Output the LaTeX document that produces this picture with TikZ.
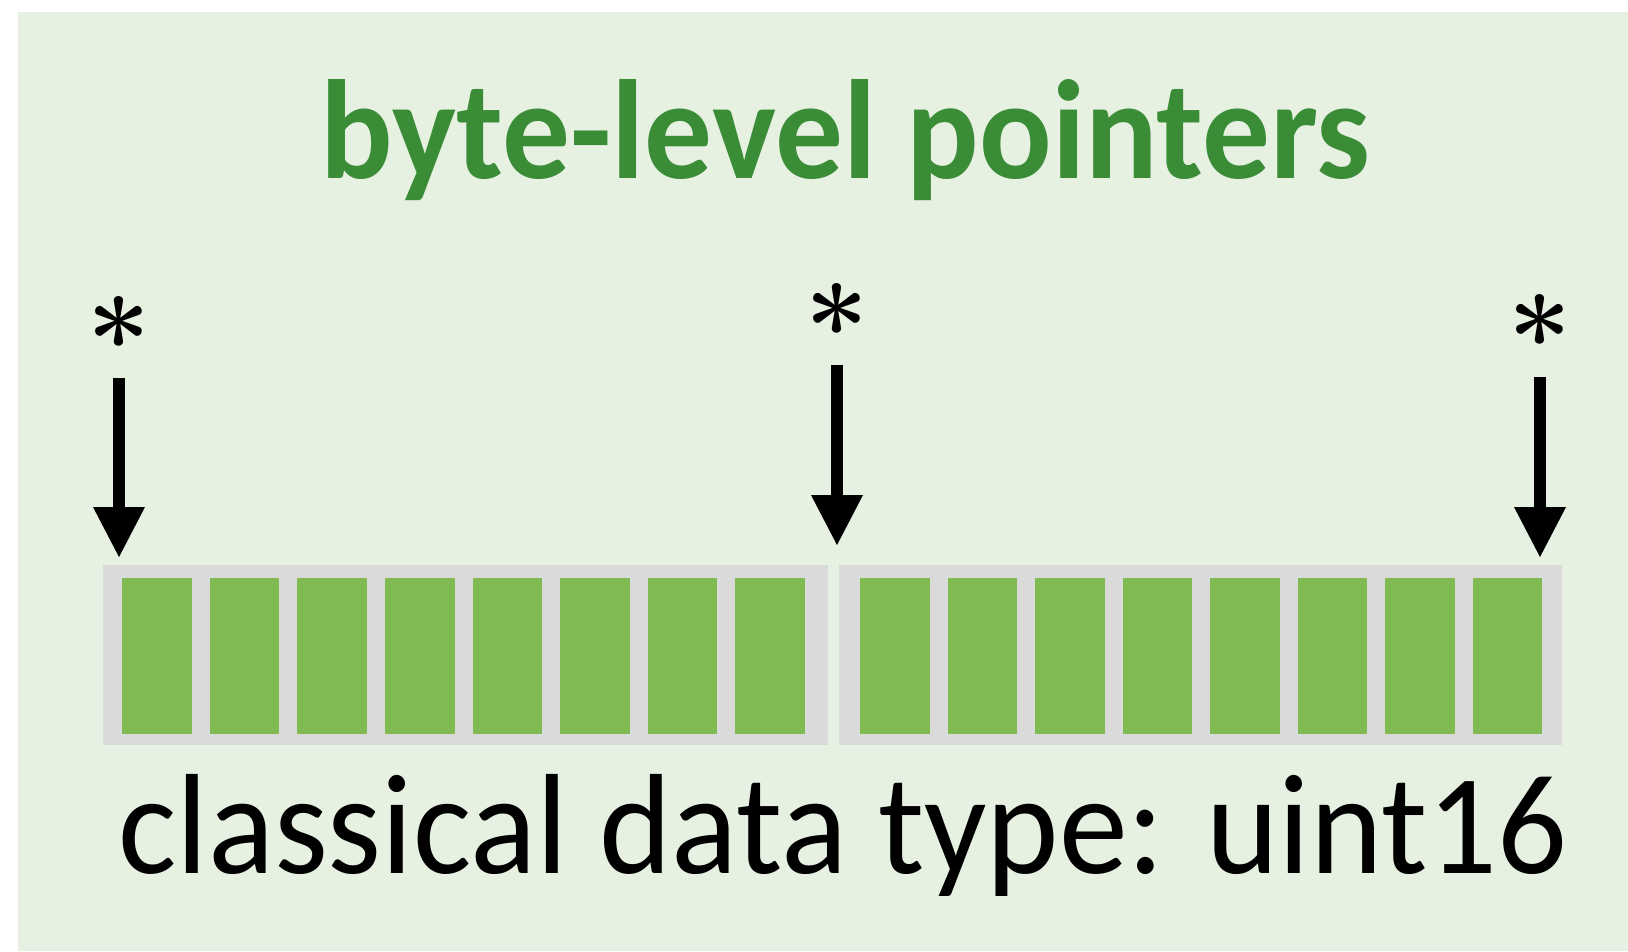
\documentclass[tikz,border=0pt]{standalone}
\usepackage{fontspec}
\setmainfont{Carlito}
\newfontfamily\starfont{Latin Modern Roman}
\usetikzlibrary{arrows.meta}

\definecolor{panelbg}{HTML}{E6F1E1}
\definecolor{cellgreen}{HTML}{80BB52}
\definecolor{framegray}{HTML}{DADADA}
\definecolor{titlegreen}{HTML}{3A8C37}

\begin{document}
\begin{tikzpicture}[x=1pt,y=-1pt,
  cellbox/.style={fill=cellgreen,draw=none},
  framebox/.style={fill=framegray,draw=none,inner sep=0pt,anchor=north west},
  ptr/.style={line width=11.7pt,-{Triangle[width=52pt,length=50pt,line width=0pt]}},
  starmark/.style={inner sep=0pt,anchor=base,font=\starfont\bfseries\fontsize{112}{112}\selectfont}]

  % canvas and panel
  \useasboundingbox (0,0) rectangle (1628,951);
  \fill[white] (0,0) rectangle (1628,951);
  \fill[panelbg] (18,12) rectangle (1628,951);

  % heading
  \node[anchor=base west,inner sep=0pt,text=titlegreen] (title) at (320,178)
    {\resizebox{1050pt}{99pt}{\bfseries byte-level pointers}};

  % the two bytes of the word
  \node[framebox,minimum width=725pt,minimum height=180pt] (byteA) at (103,565) {};
  \node[framebox,minimum width=723pt,minimum height=180pt] (byteB) at (839,565) {};

  % bits
  \foreach \i in {0,...,7} {
    \fill[cellbox] ({122.3+87.57*\i},578) rectangle ++(69.5,156);
    \fill[cellbox] ({860+87.53*\i},578) rectangle ++(69.5,156);
  }

  % pointer marks
  \node[starmark] (star1) at (119,380) {*};
  \node[starmark] (star2) at (837,367) {*};
  \node[starmark] (star3) at (1540,378) {*};

  \coordinate (from1) at (119,378);
  \coordinate (to1)   at (119,557);
  \coordinate (from2) at (837,365);
  \coordinate (to2)   at (837,545);
  \coordinate (from3) at (1540,377);
  \coordinate (to3)   at (1540,557);

  \draw[ptr] (from1) -- (to1);
  \draw[ptr] (from2) -- (to2);
  \draw[ptr] (from3) -- (to3);

  % caption
  \node[anchor=base west,inner sep=0pt] (caption) at (118,873)
    {\resizebox{1449pt}{99pt}{classical data type: uint16}};
\end{tikzpicture}
\end{document}
